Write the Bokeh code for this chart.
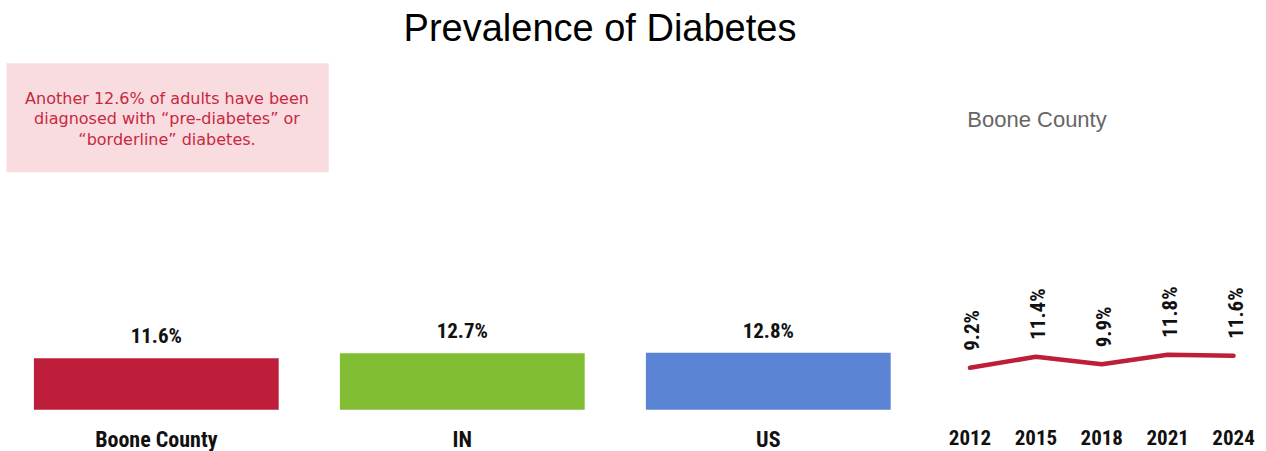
import math
from bokeh.plotting import figure
from bokeh.models import Range1d, BoxAnnotation, Label, ColumnDataSource
from bokeh.core.properties import value
from bokeh.embed import file_html
from bokeh.resources import INLINE

# ---------------- data ----------------
title_text = "Prevalence of Diabetes"
categories = ["Boone County", "IN", "US"]
prevalence = [11.6, 12.7, 12.8]
bar_colors = ["#be1e3a", "#80bd33", "#5b84d4"]

trend_title = "Boone County"
years = [2012, 2015, 2018, 2021, 2024]
boone_trend = [9.2, 11.4, 9.9, 11.8, 11.6]

note_lines = [
    "Another 12.6% of adults have been",
    "diagnosed with \u201cpre-diabetes\u201d or",
    "\u201cborderline\u201d diabetes.",
]

# ---------------- layout constants (page pixels) ----------------
W, H = 1266, 451
OX, OY = 0, 0               # where the canvas sits on the page
# bar chart: index 0 centred at px 155.8, 306 px per index; baseline py 409.3, 4.45 px per %
X0 = -(155.8 - OX) / 306.0
X1 = X0 + W / 306.0
Y0 = -(OY + H - 409.3) / 4.45
Y1 = Y0 + H / 4.45
# trend: 2012 at px 969.5, 21.96 px per year; zero at py 413.3, 5 px per %
YR0 = 2012 - (969.5 - OX) / 21.96
YR1 = YR0 + W / 21.96
LY0 = -(OY + H - 413.3) / 5.0
LY1 = LY0 + H / 5.0

NARROW = "'Roboto Condensed', 'Liberation Sans Narrow', 'DejaVu Sans Condensed', 'Arial Narrow', Roboto, sans-serif"


def bx(px):
    return X0 + (px - OX) / W * (X1 - X0)


def by(py):
    return Y0 + (H + OY - py) / H * (Y1 - Y0)


p = figure(width=W, height=H, x_range=Range1d(X0, X1), y_range=Range1d(Y0, Y1),
           output_backend="svg", toolbar_location=None, min_border=0,
           x_axis_type=None, y_axis_type=None, outline_line_color=None,
           background_fill_color="white", border_fill_color="white")
p.extra_x_ranges = {"yr": Range1d(YR0, YR1)}
p.extra_y_ranges = {"ly": Range1d(LY0, LY1)}
p.grid.visible = False

# ---------------- bars ----------------
idx = list(range(len(categories)))
bars = ColumnDataSource(dict(
    x=idx, top=prevalence, color=bar_colors, cat=categories,
    lab=[f"{v:.1f}%" for v in prevalence], zero=[0] * len(idx)))
p.vbar(x="x", top="top", bottom=0, width=0.8, fill_color="color",
       line_color=None, source=bars)
p.text(x="x", y="top", text="lab", source=bars, text_align="center",
       text_baseline="middle", y_offset=-22, text_font=value(NARROW),
       text_font_style="bold", text_font_size="21px", text_color="#111111")
p.text(x="x", y="zero", text="cat", source=bars, text_align="center",
       text_baseline="middle", y_offset=29.5, text_font=value(NARROW),
       text_font_style="bold", text_font_size="22px", text_color="#111111")

# ---------------- trend line ----------------
trend = ColumnDataSource(dict(
    x=years, y=boone_trend, lab=[f"{v:.1f}%" for v in boone_trend],
    yl=[str(y) for y in years], zero=[0] * len(years)))
p.line(x="x", y="y", source=trend, x_range_name="yr", y_range_name="ly",
       line_width=4.5, line_color="#be1e3a", line_join="round", line_cap="round")
p.text(x="x", y="y", text="lab", source=trend, x_range_name="yr",
       y_range_name="ly", angle=math.pi / 2, text_align="left",
       text_baseline="middle", x_offset=2, y_offset=-17, text_font=value(NARROW),
       text_font_style="bold", text_font_size="21px", text_color="#111111")
p.text(x="x", y="zero", text="yl", source=trend, x_range_name="yr",
       y_range_name="ly", text_align="center", text_baseline="middle",
       y_offset=23.4, text_font=value(NARROW), text_font_style="bold",
       text_font_size="21px", text_color="#111111")

# ---------------- titles & note ----------------
p.add_layout(Label(x=bx(599.5), y=by(27.4), text=title_text, text_align="center",
                   text_baseline="middle", text_font="Liberation Sans",
                   text_font_size="38px", text_color="#000000"))
p.add_layout(Label(x=bx(1036.5), y=by(118.5), text=trend_title, text_align="center",
                   text_baseline="middle", text_font="Liberation Sans",
                   text_font_size="22px", text_color="#666666"))

box = BoxAnnotation(left=bx(6), right=bx(328.3), top=by(62.7), bottom=by(171.7),
                    fill_color="#f9dcdf", fill_alpha=1.0, line_color=None,
                    level="underlay")
p.add_layout(box)
for line, mid in zip(note_lines, [98.0, 118.3, 138.7]):
    p.add_layout(Label(x=bx(166.5), y=by(mid), text=line, text_align="center",
                       text_baseline="middle", text_font="DejaVu Sans",
                       text_font_size="16px", text_color="#c8283f"))

open("out.html", "w").write(file_html(p, INLINE))
